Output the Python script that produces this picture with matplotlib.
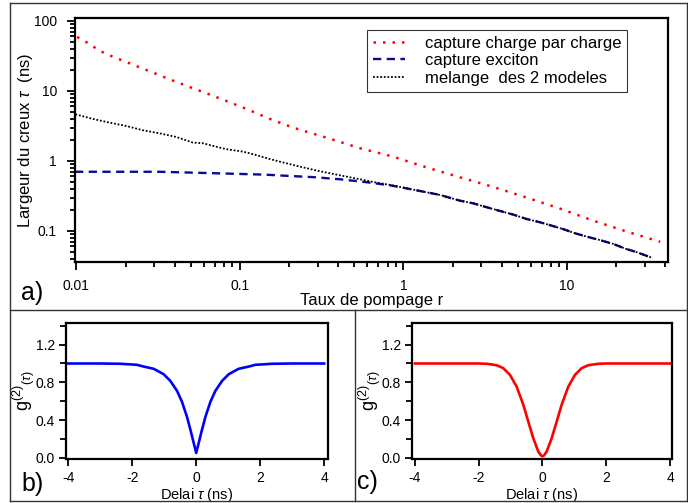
import numpy as np
import matplotlib
matplotlib.use('Agg')
from matplotlib import pyplot as plt
from matplotlib.lines import Line2D
from matplotlib.ticker import FixedLocator, NullFormatter, LogLocator

plt.rcParams['font.family'] = ['Liberation Sans', 'DejaVu Sans']
plt.rcParams['mathtext.fontset'] = 'custom'
plt.rcParams['mathtext.rm'] = 'Liberation Sans'
plt.rcParams['mathtext.it'] = 'Liberation Sans:italic'
plt.rcParams['axes.unicode_minus'] = False

# a) largeur du creux vs taux de pompage
r_charge = [0.0101, 0.01135, 0.01277, 0.01436, 0.0161, 0.0258, 0.0413, 0.0662, 0.106,
            0.151, 0.211, 0.338, 0.541, 0.865, 1.38, 2.21, 3.54, 5.67, 9.08, 14.5, 23.2, 37.2]
tau_charge = [59, 50.7, 42.5, 36.1, 31.9, 20.6, 13.3, 8.77, 5.71,
              4.02, 2.99, 2.15, 1.52, 1.15, 0.81, 0.585, 0.425, 0.30, 0.208, 0.140, 0.098, 0.070]

r_exciton = [0.0098, 0.0322, 0.0593, 0.0996, 0.1416, 0.2014, 0.286, 0.408, 0.581, 0.826,
             1.146, 1.67, 2.21, 2.67, 3.23, 3.89, 4.7, 5.67, 6.84, 8.26, 9.51, 11.2, 13.2,
             16.0, 19.2, 22.7, 26.8, 30.8, 33.1]
tau_exciton = [0.70, 0.70, 0.674, 0.652, 0.637, 0.61, 0.585, 0.547, 0.50, 0.449,
               0.389, 0.327, 0.271, 0.248, 0.218, 0.193, 0.171, 0.148, 0.133, 0.117, 0.106,
               0.0927, 0.083, 0.0737, 0.0652, 0.0559, 0.0496, 0.044, 0.0398]

r_melange = [0.00986, 0.0126, 0.0159, 0.0201, 0.0255, 0.0322, 0.0407, 0.0515, 0.0593, 0.0684,
             0.0826, 0.104, 0.12, 0.151, 0.175, 0.232, 0.308, 0.408, 0.541, 0.684, 0.826,
             1.146, 1.67, 2.21, 2.67, 3.23, 3.89, 4.7, 5.67, 6.84, 8.26, 9.51, 11.2, 13.2,
             16.0, 19.2, 22.7, 26.8, 30.8, 33.5]
tau_melange = [4.64, 3.98, 3.53, 3.16, 2.74, 2.48, 2.2, 1.83, 1.79, 1.64,
               1.47, 1.36, 1.25, 1.07, 0.977, 0.83, 0.712, 0.624, 0.547, 0.49, 0.455,
               0.389, 0.327, 0.271, 0.248, 0.218, 0.193, 0.171, 0.148, 0.133, 0.117, 0.106,
               0.0927, 0.083, 0.0737, 0.0652, 0.0559, 0.0496, 0.044, 0.041]

# b) et c) g2(tau)
t_b = [-4.0, -3.0, -2.375, -1.85, -1.65, -1.33, -1.02, -0.81, -0.60, -0.447, -0.29, -0.166, -0.0625, 0.0,
       0.0625, 0.166, 0.29, 0.447, 0.60, 0.81, 1.02, 1.33, 1.65, 1.85, 2.375, 3.0, 4.0]
g_b = [1.0, 1.0, 0.997, 0.986, 0.968, 0.944, 0.887, 0.816, 0.71, 0.596, 0.436, 0.277, 0.135, 0.05,
       0.135, 0.277, 0.436, 0.596, 0.71, 0.816, 0.887, 0.944, 0.968, 0.986, 0.997, 1.0, 1.0]

t_c = [-4.0, -3.0, -2.0, -1.75, -1.44, -1.23, -1.02, -0.81, -0.60, -0.445, -0.288, -0.13, -0.05, 0.0,
       0.05, 0.13, 0.288, 0.445, 0.60, 0.81, 1.02, 1.23, 1.44, 1.75, 2.0, 3.0, 4.0]
g_c = [1.0, 1.0, 1.0, 0.997, 0.982, 0.951, 0.88, 0.755, 0.561, 0.383, 0.206, 0.064, 0.025, 0.015,
       0.025, 0.064, 0.206, 0.383, 0.561, 0.755, 0.88, 0.951, 0.982, 0.997, 1.0, 1.0, 1.0]

W, H = 688, 503
fig = plt.figure(figsize=(W / 100, H / 100), dpi=100)


def box(l, t, r, b):
    return [l / W, 1 - b / H, (r - l) / W, (b - t) / H]


def style(ax):
    for s in ax.spines.values():
        s.set_linewidth(1.6)
    ax.tick_params(which='both', direction='out', width=1.3, top=False, right=False)


# --- panel a
ax = fig.add_axes(box(75, 18, 668, 262))
ax.plot(r_charge, tau_charge, color='red', lw=1.8, ls=(0, (1, 2.8)), label='capture charge par charge')
ax.plot(r_exciton, tau_exciton, color='#0a0a96', lw=1.7, ls=(0, (3.5, 2.3)), label='capture exciton')
ax.plot(r_melange, tau_melange, color='black', lw=1.3, ls=(0, (1, 1)), label='melange  des 2 modeles')
ax.set_xscale('log')
ax.set_yscale('log')
ax.set_xlim(0.0098, 41.5)
ax.set_ylim(0.036, 110)
style(ax)
ax.tick_params(which='major', length=6, labelsize=10, pad=7)
ax.tick_params(which='minor', length=3.5)
ax.tick_params(axis='x', which='major', pad=6)
ax.xaxis.set_major_locator(FixedLocator([0.01, 0.1, 1, 10]))
ax.set_xticklabels(['0.01', '0.1', '1', '10'])
ax.xaxis.set_minor_locator(LogLocator(base=10, subs=np.arange(2, 10), numticks=20))
ax.xaxis.set_minor_formatter(NullFormatter())
ax.yaxis.set_major_locator(FixedLocator([0.1, 1, 10, 100]))
ax.set_yticklabels(['0.1', '1', '10', '100'])
ax.yaxis.set_minor_locator(LogLocator(base=10, subs=np.arange(2, 10), numticks=20))
ax.yaxis.set_minor_formatter(NullFormatter())
ax.set_xlabel('Taux de pompage r', fontsize=12, labelpad=0)
ax.set_ylabel(r'Largeur du creux $\tau$  (ns)', fontsize=12, labelpad=-1)
leg = ax.legend(loc='upper right', bbox_to_anchor=(0.931, 0.951), borderaxespad=0,
                fontsize=12, frameon=True, fancybox=False, edgecolor='black',
                handlelength=1.9, handletextpad=1.2, labelspacing=0.15, borderpad=0.35)
leg.get_frame().set_linewidth(0.8)

# --- panel b
axb = fig.add_axes(box(66, 323, 328, 459))
axb.plot(t_b, g_b, color='#0000ff', lw=1.9)
axb.set_xlim(-4.07, 4.12)
axb.set_ylim(-0.014, 1.43)

# --- panel c
axc = fig.add_axes(box(412, 323, 672, 459))
axc.plot(t_c, g_c, color='#ff0000', lw=1.9)
axc.set_xlim(-4.09, 4.06)
axc.set_ylim(-0.014, 1.43)

for a in (axb, axc):
    style(a)
    a.set_xticks([-4, -2, 0, 2, 4])
    a.set_yticks([0.0, 0.4, 0.8, 1.2])
    a.set_yticklabels(['0.0', '0.4', '0.8', '1.2'])
    a.yaxis.set_minor_locator(FixedLocator([0.2, 0.6, 1.0, 1.4]))
    a.tick_params(which='major', length=5, labelsize=10, pad=3)
    a.tick_params(axis='x', which='major', pad=4)
    a.tick_params(which='minor', length=4)
    a.set_xlabel(r'Delai $\tau$ (ns)', fontsize=10.5, labelpad=0.5)
    a.set_ylabel(r'g$^{(2)}{}_{(\tau)}$', fontsize=13, labelpad=-1)

# labels a) b) c)
fig.text(21 / W, 1 - 293 / H, 'a)', fontsize=18, va='center', ha='left')
fig.text(21 / W, 1 - 484 / H, 'b)', fontsize=18, va='center', ha='left')
fig.text(357 / W, 1 - 482 / H, 'c)', fontsize=18, va='center', ha='left')

# cadres
lc = '#333333'
for x0, y0, x1, y1 in [(10, 3, 687, 3), (10, 3, 10, 501), (10, 501, 687, 501), (687, 3, 687, 501),
                       (10, 310, 687, 310), (355, 310, 355, 501)]:
    fig.add_artist(Line2D([x0 / W, x1 / W], [1 - y0 / H, 1 - y1 / H], color=lc, lw=1.0,
                          transform=fig.transFigure))

fig.savefig('out.png', dpi=100)
